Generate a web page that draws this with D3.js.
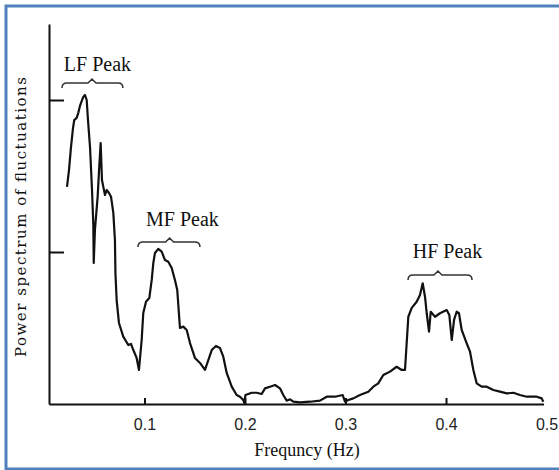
<!DOCTYPE html>
<html>
<head>
<meta charset="utf-8">
<script src="https://d3js.org/d3.v7.min.js"></script>
<style>
	html, body { margin: 0; padding: 0; background: #fff; }
	svg { display: block; }
</style>
</head>
<body>
<svg id="chart" width="559" height="470"></svg>
<script>
// Spectrum (frequency in Hz, power in tick units)
let freqs = [0.0229, 0.0249, 0.0269, 0.0289, 0.0301, 0.0325, 0.0341, 0.0358, 0.0368, 0.0391,
	0.0408, 0.0425, 0.0438, 0.0458, 0.0478, 0.0491, 0.0495, 0.0507, 0.0534, 0.0550,
	0.0564, 0.0577, 0.0590, 0.0607, 0.0624, 0.0647, 0.0667, 0.0690, 0.0706, 0.0711,
	0.0723, 0.0746, 0.0789, 0.0839, 0.0866, 0.0889, 0.0922, 0.0945, 0.0972, 0.0988,
	0.1015, 0.1048, 0.1072, 0.1088, 0.1104, 0.1137, 0.1171, 0.1204, 0.1237, 0.1271,
	0.1303, 0.1326, 0.1353, 0.1386, 0.1420, 0.1453, 0.1502, 0.1552, 0.1602, 0.1635,
	0.1669, 0.1711, 0.1751, 0.1784, 0.1818, 0.1868, 0.1917, 0.1950, 0.1983, 0.1993,
	0.2005, 0.2067, 0.2116, 0.2166, 0.2199, 0.2249, 0.2299, 0.2348, 0.2381, 0.2415,
	0.2448, 0.2481, 0.2547, 0.2647, 0.2746, 0.2813, 0.2896, 0.2972, 0.2995, 0.3028,
	0.3078, 0.3144, 0.3227, 0.3277, 0.3326, 0.3376, 0.3443, 0.3509, 0.3559, 0.3592,
	0.3625, 0.3659, 0.3708, 0.3741, 0.3768, 0.3791, 0.3808, 0.3831, 0.3848, 0.3891,
	0.3940, 0.4007, 0.4033, 0.4057, 0.4080, 0.4106, 0.4129, 0.4156, 0.4206, 0.4239,
	0.4272, 0.4305, 0.4355, 0.4405, 0.4471, 0.4537, 0.4604, 0.4670, 0.4736, 0.4803,
	0.4902, 0.4952, 0.4968];

let power = [1.428, 1.539, 1.691, 1.816, 1.868, 1.882, 1.914, 1.961, 1.980, 2.020,
	2.033, 2.000, 1.868, 1.691, 1.408, 1.178, 0.928, 1.145, 1.364, 1.561,
	1.717, 1.474, 1.430, 1.375, 1.408, 1.388, 1.364, 1.257, 1.079, 0.862,
	0.684, 0.533, 0.443, 0.388, 0.395, 0.355, 0.303, 0.224, 0.421, 0.599,
	0.673, 0.697, 0.816, 0.928, 0.993, 1.020, 1.002, 0.947, 0.936, 0.895,
	0.816, 0.750, 0.500, 0.509, 0.487, 0.401, 0.303, 0.270, 0.224, 0.289,
	0.355, 0.382, 0.368, 0.311, 0.204, 0.114, 0.059, 0.048, 0.026, 0.007,
	0.059, 0.074, 0.074, 0.066, 0.103, 0.114, 0.125, 0.103, 0.059, 0.022,
	0.031, 0.015, 0.011, 0.015, 0.022, 0.048, 0.048, 0.059, 0.015, 0.026,
	0.037, 0.059, 0.081, 0.114, 0.136, 0.191, 0.213, 0.245, 0.224, 0.224,
	0.574, 0.632, 0.673, 0.717, 0.794, 0.706, 0.597, 0.476, 0.607, 0.574,
	0.597, 0.618, 0.586, 0.421, 0.553, 0.607, 0.597, 0.487, 0.399, 0.344,
	0.224, 0.136, 0.114, 0.114, 0.092, 0.081, 0.070, 0.074, 0.059, 0.048,
	0.048, 0.037, 0.015];

let xTicks = [0.1, 0.2, 0.3, 0.4, 0.5];
let yTicks = [1, 2];

// Peak annotations: bracket span, bracket level, label centre and level
let peakNames = ['LF Peak', 'MF Peak', 'HF Peak'];
let peakFrom = [0.0179, 0.0935, 0.3622];
let peakTo = [0.0786, 0.1552, 0.4259];
let peakMid = [0.0478, 0.1250, 0.3920];
let peakLevel = [2.112, 1.066, 0.849];
let peakLabelAt = [0.0532, 0.1378, 0.4015];
let peakLabelLevel = [2.191, 1.171, 0.961];

let svg = d3.select('#chart');

// blue picture frame
svg.append('rect')
	.attr('x', 6)
	.attr('y', 6)
	.attr('width', 600)
	.attr('height', 463)
	.attr('fill', '#fff')
	.attr('stroke', '#4f81bd')
	.attr('stroke-width', 3);

let x = d3.scaleLinear().domain([0.005, 0.497]).range([49, 543.5]);
let y = d3.scaleLinear().domain([0, 2.5]).range([404, 24]);

// x axis: small upward ticks, labels underneath
let xAxis = svg.append('g')
	.attr('transform', 'translate(0,' + y(0) + ')')
	.call(d3.axisBottom(x)
		.tickValues(xTicks)
		.tickSize(-6)
		.tickSizeOuter(0)
		.tickPadding(15)
		.tickFormat(d3.format('.1f')));
xAxis.select('.domain').attr('stroke', '#111').attr('stroke-width', 2);
xAxis.selectAll('.tick line')
	.attr('stroke', '#111')
	.attr('stroke-width', 2)
	.filter(function (d) { return d > 0.45; }).remove();
xAxis.selectAll('.tick text')
	.attr('fill', '#222')
	.attr('font-size', 16)
	.attr('font-family', 'Liberation Sans, Arial, sans-serif');

// y axis: no labels, ticks point into the plot
let yAxis = svg.append('g')
	.attr('transform', 'translate(' + x(0.005) + ',0)')
	.call(d3.axisRight(y)
		.tickValues(yTicks)
		.tickSize(15)
		.tickSizeOuter(0)
		.tickFormat(''));
yAxis.select('.domain').attr('stroke', '#111').attr('stroke-width', 2);
yAxis.selectAll('.tick line').attr('stroke', '#111').attr('stroke-width', 2);

// spectrum curve
let line = d3.line()
	.x(function (d) { return x(d[0]); })
	.y(function (d) { return y(d[1]); });

svg.append('path')
	.datum(d3.zip(freqs, power))
	.attr('d', line)
	.attr('fill', 'none')
	.attr('stroke', '#111')
	.attr('stroke-width', 2.2)
	.attr('stroke-linejoin', 'round');

// brackets over the peaks
function bracePath(i) {
	let x0 = x(peakFrom[i]), x1 = x(peakTo[i]), xm = x(peakMid[i]), yl = y(peakLevel[i]);
	return 'M' + x0 + ',' + (yl + 5)
		+ 'Q' + x0 + ',' + yl + ' ' + (x0 + 5) + ',' + yl
		+ 'L' + (xm - 4) + ',' + yl
		+ 'L' + xm + ',' + (yl - 4)
		+ 'L' + (xm + 4) + ',' + yl
		+ 'L' + (x1 - 5) + ',' + yl
		+ 'Q' + x1 + ',' + yl + ' ' + x1 + ',' + (yl + 5);
}

let peaks = svg.selectAll('.peak')
	.data(peakNames)
	.enter().append('g')
	.attr('class', 'peak');

peaks.append('path')
	.attr('d', function (d, i) { return bracePath(i); })
	.attr('fill', 'none')
	.attr('stroke', '#333')
	.attr('stroke-width', 1.5);

peaks.append('text')
	.text(function (d) { return d; })
	.attr('x', function (d, i) { return x(peakLabelAt[i]); })
	.attr('y', function (d, i) { return y(peakLabelLevel[i]); })
	.attr('text-anchor', 'middle')
	.attr('font-size', 20)
	.attr('font-family', 'Liberation Serif, Times New Roman, serif')
	.attr('fill', '#111');

// axis titles
svg.append('text')
	.text('Frequncy (Hz)')
	.attr('x', 307)
	.attr('y', 456)
	.attr('text-anchor', 'middle')
	.attr('font-size', 18)
	.attr('font-family', 'Liberation Serif, Times New Roman, serif')
	.attr('fill', '#111');

svg.append('text')
	.text('Power spectrum of fluctuations')
	.attr('transform', 'translate(26,217) rotate(-90)')
	.attr('text-anchor', 'middle')
	.attr('textLength', 280)
	.attr('lengthAdjust', 'spacing')
	.attr('font-size', 15)
	.attr('font-family', 'DejaVu Serif, serif')
	.attr('fill', '#111');
</script>
</body>
</html>
